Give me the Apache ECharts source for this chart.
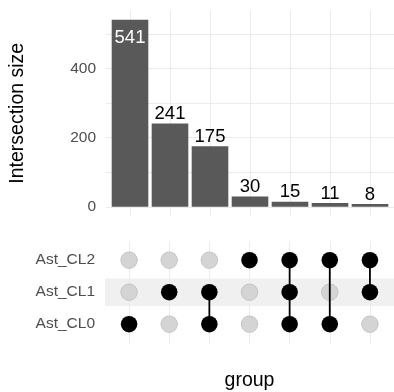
<!DOCTYPE html>
<html>
<head>
<meta charset="utf-8">
<script src="https://cdn.jsdelivr.net/npm/echarts@6/dist/echarts.min.js"></script>
<style>
html,body{margin:0;padding:0;background:#fff;}
#chart{width:394px;height:392px;}
</style>
</head>
<body>
<div id="chart"></div>
<script>
// ---- data ----
const sets = ['Ast_CL0', 'Ast_CL1', 'Ast_CL2'];            // bottom to top
const combos = [
  ['Ast_CL0'],
  ['Ast_CL1'],
  ['Ast_CL0', 'Ast_CL1'],
  ['Ast_CL2'],
  ['Ast_CL0', 'Ast_CL1', 'Ast_CL2'],
  ['Ast_CL0', 'Ast_CL2'],
  ['Ast_CL1', 'Ast_CL2']
];
const sizes = [541, 241, 175, 30, 15, 11, 8];
const yTicks = [0, 200, 400];
const yGrid = [0, 100, 200, 300, 400, 500];
const highlightedSet = 'Ast_CL1';

// ---- layout ----
const FONT = 'Liberation Sans, Arial, sans-serif';
const nCols = combos.length;
const xMin = 1 - 0.6, xMax = nCols + 0.6;
const gridLeft = 105, gridWidth = 293;
const barW = gridWidth / (xMax - xMin) * 0.9;
const maxSize = Math.max(...sizes);
const yMin = -0.05 * maxSize, yMax = maxSize * 1.05;
const colIdx = sizes.map((_, i) => i + 1);
const gridColor = '#ebebeb';

const barData = sizes.map((v, i) => {
  const item = { value: [colIdx[i], v] };
  if (v === maxSize) {
    item.label = { position: 'insideTop', color: '#ffffff', distance: 9 };
  }
  return item;
});

const greyDots = [], blackDots = [];
combos.forEach((c, i) => {
  sets.forEach((s, j) => {
    const pt = [colIdx[i], j + 1];
    if (c.includes(s)) blackDots.push(pt); else greyDots.push(pt);
  });
});

const lineSeries = [];
combos.forEach((c, i) => {
  if (c.length > 1) {
    const rows = c.map(s => sets.indexOf(s) + 1);
    lineSeries.push({
      type: 'line', xAxisIndex: 1, yAxisIndex: 1,
      data: [[colIdx[i], Math.min(...rows)], [colIdx[i], Math.max(...rows)]],
      symbol: 'none', lineStyle: { color: '#000', width: 1.8 }, z: 3,
      silent: true, animation: false
    });
  }
});

const hlRow = sets.indexOf(highlightedSet) + 1;

const chart = echarts.init(document.getElementById('chart'), null, { renderer: 'canvas' });
chart.setOption({
  animation: false,
  textStyle: { fontFamily: FONT },
  grid: [
    { left: gridLeft, width: gridWidth, top: 10.3, height: 205.9 },
    { left: gridLeft, width: gridWidth, top: 241, height: 102.4 }
  ],
  xAxis: [
    { type: 'value', gridIndex: 0, min: xMin, max: xMax,
      axisLine: { show: false }, axisTick: { show: false }, axisLabel: { show: false }, splitLine: { show: false } },
    { type: 'value', gridIndex: 1, min: xMin, max: xMax,
      axisLine: { show: false }, axisTick: { show: false }, axisLabel: { show: false }, splitLine: { show: false },
      name: 'group', nameLocation: 'middle', nameGap: 27,
      nameTextStyle: { fontSize: 19.5, color: '#000', fontFamily: FONT } }
  ],
  yAxis: [
    { type: 'value', gridIndex: 0, min: yMin, max: yMax,
      axisLine: { show: false }, axisTick: { show: false }, splitLine: { show: false },
      axisLabel: { customValues: yTicks, color: '#4d4d4d', fontSize: 15.5, margin: 10, fontFamily: FONT },
      name: 'Intersection size', nameLocation: 'middle', nameRotate: 90, nameGap: 78,
      nameTextStyle: { fontSize: 19.5, color: '#000', fontFamily: FONT } },
    { type: 'value', gridIndex: 1, min: 0.4, max: 3.6,
      axisLine: { show: false }, axisTick: { show: false }, splitLine: { show: false },
      axisLabel: { customValues: sets.map((_, j) => j + 1), formatter: v => sets[Math.round(v) - 1],
        color: '#4d4d4d', fontSize: 15.5, margin: 10, fontFamily: FONT } }
  ],
  series: [
    { type: 'bar', xAxisIndex: 0, yAxisIndex: 0, data: barData, barWidth: barW,
      itemStyle: { color: '#595959' }, z: 2,
      label: { show: true, position: 'top', distance: 0, color: '#000', fontSize: 18.5, fontFamily: FONT,
        formatter: p => p.value[1] },
      markLine: { silent: true, symbol: 'none', label: { show: false }, z: 1,
        lineStyle: { color: gridColor, width: 1, type: 'solid' },
        data: yGrid.map(v => ({ yAxis: v })).concat(colIdx.map(v => ({ xAxis: v }))) } },
    { type: 'scatter', xAxisIndex: 1, yAxisIndex: 1, data: greyDots, symbolSize: 16.5,
      itemStyle: { color: '#d4d4d4', borderColor: '#bdbdbd', borderWidth: 0.8, opacity: 1 }, z: 2,
      markArea: { silent: true, z: 0, itemStyle: { color: '#f0f0f0' },
        data: [[{ yAxis: hlRow - 0.43 }, { yAxis: hlRow + 0.43 }]] },
      markLine: { silent: true, z: 1, symbol: 'none', label: { show: false },
        lineStyle: { color: gridColor, width: 1, type: 'solid' },
        data: colIdx.map(v => ({ xAxis: v })) } },
    ...lineSeries,
    { type: 'scatter', xAxisIndex: 1, yAxisIndex: 1, data: blackDots, symbolSize: 16.5,
      itemStyle: { color: '#000', opacity: 1 }, z: 4 }
  ]
});
</script>
</body>
</html>
